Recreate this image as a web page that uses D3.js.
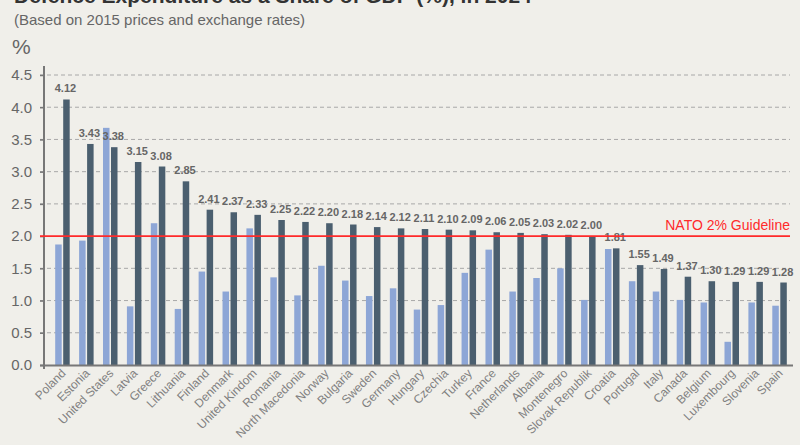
<!DOCTYPE html>
<html><head><meta charset="utf-8">
<script src="https://cdn.jsdelivr.net/npm/d3@7"></script>
<style>
html,body{margin:0;padding:0;background:#f0efea;}
svg{display:block;font-family:"Liberation Sans",Arial,sans-serif;}
</style></head><body>
<svg id="c" width="800" height="445"></svg>
<script>
const countries = ["Poland","Estonia","United States","Latvia","Greece","Lithuania","Finland","Denmark","United Kindom","Romania","North Macedonia","Norway","Bulgaria","Sweden","Germany","Hungary","Czechia","Turkey","France","Netherlands","Albania","Montenegro","Slovak Republik","Croatia","Portugal","Italy","Canada","Belgium","Luxembourg","Slovenia","Spain"];
const values2014 = [1.87,1.93,3.68,0.91,2.20,0.87,1.45,1.14,2.12,1.36,1.08,1.54,1.31,1.07,1.19,0.86,0.93,1.43,1.79,1.14,1.35,1.50,1.01,1.80,1.30,1.14,1.01,0.97,0.36,0.97,0.92];
const values2024 = [4.12,3.43,3.38,3.15,3.08,2.85,2.41,2.37,2.33,2.25,2.22,2.20,2.18,2.14,2.12,2.11,2.10,2.09,2.06,2.05,2.03,2.02,2.00,1.81,1.55,1.49,1.37,1.30,1.29,1.29,1.28];
const yTicks = [0,0.5,1.0,1.5,2.0,2.5,3.0,3.5,4.0,4.5];
const guideline = 2.0;

const svg = d3.select("#c");
const x = d3.scaleBand().domain(countries).range([50.5, 791.5]).padding(0);
const y = d3.scaleLinear().domain([0, 4.5]).range([365, 75]);

// title (cut off at top)
svg.append("text").attr("x", 14).attr("y", 3).attr("font-size", 21).attr("font-weight", "bold")
  .attr("fill", "#333").text("Defence Expenditure as a Share of GDP (%), in 2024");
svg.append("text").attr("x", 14).attr("y", 25).attr("font-size", 15).attr("fill", "#666")
  .text("(Based on 2015 prices and exchange rates)");
svg.append("text").attr("x", 12).attr("y", 54).attr("font-size", 21).attr("fill", "#666").text("%");

// gridlines
svg.append("g").selectAll("line").data(yTicks.filter(d => d > 0 && d !== guideline)).join("line")
  .attr("x1", 40).attr("x2", 790).attr("y1", d => y(d)).attr("y2", d => y(d))
  .attr("stroke", "#a8a8a8").attr("stroke-width", 1).attr("stroke-dasharray", "4,3");

// y axis
const yAxis = d3.axisLeft(y).tickValues(yTicks).tickFormat(d3.format(".1f")).tickSize(4).tickPadding(8);
const ya = svg.append("g").attr("transform", "translate(44,0)").call(yAxis);
ya.select(".domain").remove();
ya.selectAll(".tick line").attr("stroke", "#777").attr("stroke-width", 1.5);
ya.selectAll(".tick text").attr("font-size", 15).attr("fill", "#666").attr("font-family", "Liberation Sans, Arial, sans-serif");
svg.append("line").attr("x1", 44).attr("x2", 44).attr("y1", 66).attr("y2", 369).attr("stroke", "#777").attr("stroke-width", 2);

const lightW = 6.5, darkW = 6.5, gap = 1.5;
const groups = svg.append("g").selectAll("g").data(countries).join("g")
  .attr("transform", d => `translate(${x(d) + x.bandwidth() / 2},0)`);
groups.append("rect")
  .attr("x", -(lightW + gap / 2)).attr("width", lightW)
  .attr("y", (d, i) => y(values2014[i])).attr("height", (d, i) => y(0) - y(values2014[i]))
  .attr("fill", "#8da6d6");
groups.append("rect")
  .attr("x", gap / 2).attr("width", darkW)
  .attr("y", (d, i) => y(values2024[i])).attr("height", (d, i) => y(0) - y(values2024[i]))
  .attr("fill", "#4b5f6f");
groups.append("text")
  .attr("x", gap / 2 + darkW / 2 - 1).attr("y", (d, i) => y(values2024[i]) - 7)
  .attr("text-anchor", "middle").attr("font-size", 11).attr("font-weight", "bold")
  .attr("fill", "#666").text((d, i) => values2024[i].toFixed(2));

// guideline
svg.append("line").attr("x1", 40).attr("x2", 790).attr("y1", y(guideline)).attr("y2", y(guideline))
  .attr("stroke", "#ff2a2a").attr("stroke-width", 1.6);
svg.append("text").attr("x", 790).attr("y", y(guideline) - 6).attr("text-anchor", "end")
  .attr("font-size", 14).attr("fill", "#ff2a2a").text("NATO 2% Guideline");

// baseline
svg.append("line").attr("x1", 40).attr("x2", 793).attr("y1", y(0) + 0.5).attr("y2", y(0) + 0.5)
  .attr("stroke", "#777").attr("stroke-width", 2);

// x labels
const xAxis = d3.axisBottom(x).tickSize(0).tickPadding(0);
const xa = svg.append("g").attr("transform", `translate(0,${y(0)})`).call(xAxis);
xa.select(".domain").remove();
xa.selectAll(".tick text")
  .attr("font-size", 12).attr("fill", "#808080").attr("font-family", "Liberation Sans, Arial, sans-serif")
  .attr("text-anchor", "end").attr("dy", 0)
  .attr("transform", "translate(4,9) rotate(-45)");
</script></body></html>
